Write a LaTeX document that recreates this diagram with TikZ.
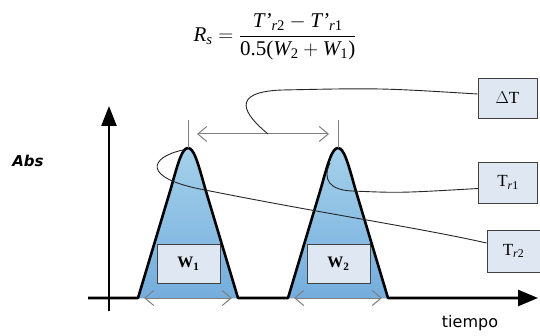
\documentclass[tikz,border=0pt]{standalone}
\usepackage{amsmath}
\usepackage{fontspec}
\setmainfont{Liberation Serif}
\newfontfamily\labfont{DejaVu Sans}
\usetikzlibrary{arrows.meta}
\definecolor{peaktop}{HTML}{A4D1EB}
\definecolor{peakbot}{HTML}{74ADDD}
\definecolor{boxfill}{HTML}{DEE7F2}
\newcommand{\ti}[1]{\text{\itshape #1}}
\newcommand{\tu}[1]{\text{#1}}
\begin{document}
\begin{tikzpicture}[x=1pt,y=-1pt,
  lbl/.style={draw=black!75,line width=0.9pt,fill=boxfill,minimum width=59pt,minimum height=40pt,inner sep=0pt,font=\fontsize{17}{19}\selectfont},
  wlbl/.style={lbl,minimum width=63pt,minimum height=39pt,font=\fontsize{16}{18}\selectfont\bfseries},
  callout/.style={draw=black!85,line width=0.9pt},
  grayarrow/.style={draw=black!50,line width=1pt,{Straight Barb[length=9pt,width=15pt]}-{Straight Barb[length=9pt,width=15pt]}},
  tickline/.style={draw=black!50,line width=0.8pt},
  peakline/.style={line width=2.6pt,line join=round},
  axisline/.style={line width=2.4pt},
  peakshade/.style={top color=peaktop,bottom color=peakbot,draw=none}
]
\useasboundingbox (0,0) rectangle (540,336);

% formula
\node (formula) at (275,37) {\fontsize{21}{24}\selectfont
  $\ti{R}_{\ti{s}} = \dfrac{\ti{T'}_{\ti{r}\tu{2}} - \ti{T'}_{\ti{r}\tu{1}}}{\tu{0.5(}\ti{W}_{\tu{2}} + \ti{W}_{\tu{1}}\tu{)}}$};

% axis labels
\node[font=\labfont\bfseries\itshape\fontsize{15}{17}\selectfont] (abs) at (28,161) {Abs};
\node[font=\labfont\fontsize{16}{18}\selectfont] (tiempo) at (470,323) {tiempo};

% peak fills
\fill[peakshade] (138,298) -- (171,188) .. controls (178,163) and (182,148) .. (188,148)
  .. controls (194,148) and (198,163) .. (205,188) -- (238,298) -- cycle;
\fill[peakshade] (288,298) -- (321,188) .. controls (328,163) and (332,148) .. (338,148)
  .. controls (344,148) and (348,163) .. (355,188) -- (388,298) -- cycle;

% width boxes
\node[wlbl] (w1) at (188.5,264) {W\textsubscript{1}};
\node[wlbl] (w2) at (338.5,264) {W\textsubscript{2}};

% width arrows
\coordinate (w1a) at (144,298); \coordinate (w1b) at (232,298);
\coordinate (w2a) at (294,298); \coordinate (w2b) at (382,298);
\draw[grayarrow] (w1a) -- (w1b);
\draw[grayarrow] (w2a) -- (w2b);

% axes and peak outline
\coordinate (ybot) at (109,311); \coordinate (ytop) at (109,106);
\draw[axisline,-{Triangle[length=20pt,width=15pt]}] (ybot) -- (ytop);
\coordinate (xstart) at (88,298); \coordinate (xend) at (538,298);
\draw[peakline,-{Triangle[length=20pt,width=16pt]}] (xstart) -- (138,298) -- (171,188)
  .. controls (178,163) and (182,148) .. (188,148)
  .. controls (194,148) and (198,163) .. (205,188) -- (238,298) -- (288,298) -- (321,188)
  .. controls (328,163) and (332,148) .. (338,148)
  .. controls (344,148) and (348,163) .. (355,188) -- (388,298) -- (xend);

% peak ticks and separation arrow
\coordinate (pk1) at (188,148); \coordinate (tk1) at (188,120);
\coordinate (pk2) at (338,148); \coordinate (tk2) at (338,120);
\draw[tickline] (pk1) -- (tk1);
\draw[tickline] (pk2) -- (tk2);
\coordinate (da) at (197,134); \coordinate (db) at (329,134);
\draw[grayarrow] (da) -- (db);
\coordinate (dmid) at (268,134);

% label boxes
\node[lbl] (dT) at (507.5,98) {$\Delta$T};
\node[lbl,minimum height=41pt] (t1) at (508,182.5) {T\textsubscript{\itshape r\upshape 1}};
\node[lbl,minimum width=53pt,minimum height=42pt] (t2) at (513.5,251) {T\textsubscript{\itshape r\upshape 2}};

% callouts
\draw[callout] (dmid) .. controls (245,115) and (228,92) .. (282,90)
  .. controls (380,88) .. ([yshift=4pt]dT.west);
\coordinate (c1) at (330,163);
\draw[callout] (c1) .. controls (322,180) and (330,190) .. (352,191)
  .. controls (400,193) .. ([yshift=-6pt]t1.west);
\coordinate (c2) at (183,150);
\draw[callout] (c2) .. controls (150,157) and (140,178) .. (205,190)
  .. controls (320,213) and (420,228) .. ([yshift=8pt]t2.west);
\end{tikzpicture}
\end{document}
